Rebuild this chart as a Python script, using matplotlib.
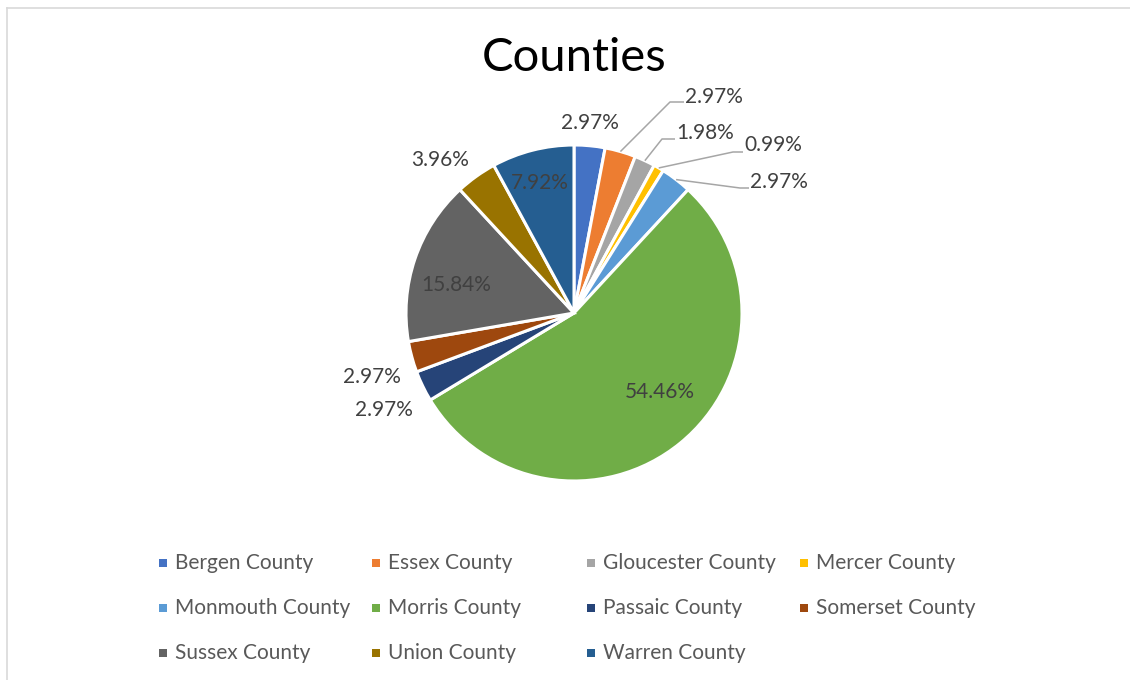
import matplotlib
matplotlib.use("Agg")
import matplotlib.pyplot as plt
from matplotlib.patches import Rectangle
import numpy as np

# Data
counties = ["Bergen County", "Essex County", "Gloucester County", "Mercer County",
            "Monmouth County", "Morris County", "Passaic County", "Somerset County",
            "Sussex County", "Union County", "Warren County"]
shares = [2.97, 2.97, 1.98, 0.99, 2.97, 54.46, 2.97, 2.97, 15.84, 3.96, 7.92]
colors = ["#4472C4", "#ED7D31", "#A5A5A5", "#FFC000", "#5B9BD5", "#70AD47",
          "#264478", "#9E480E", "#636363", "#997300", "#255E91"]
title = "Counties"

W, H = 1130, 680
plt.rcParams["font.family"] = ["Lato", "DejaVu Sans"]

fig = plt.figure(figsize=(W / 100, H / 100), dpi=100)
ax = fig.add_axes([0, 0, 1, 1])


def py(y):
    # top-down pixel row -> axes y
    return H - y


cx, cy, R = 574, py(313), 168

wedges, _ = ax.pie(shares, colors=colors, startangle=90, counterclock=False,
                   center=(cx, cy), radius=R,
                   wedgeprops=dict(edgecolor="white", linewidth=2.2))

# label placement (pixel positions of label centres)
label_pos = {
    0: (590, 123), 5: (660, 392), 6: (384, 410), 7: (372, 377),
    8: (456, 285), 9: (440, 160), 10: (540, 183),
}
# leader elbows for the small slices on the upper right; label starts after elbow
leaders = {
    1: ((670, 102), (684, 102), 97),
    2: ((662, 139), (675, 139), 133),
    3: ((733, 152), (743, 152), 145),
    4: ((740, 188), (749, 188), 182),
}

lab_kw = dict(fontsize=15, color="#404040", va="center")
for i, w in enumerate(wedges):
    txt = f"{shares[i]:.2f}%"
    if i in leaders:
        mid = np.deg2rad((w.theta1 + w.theta2) / 2)
        sx, sy = cx + R * np.cos(mid), cy + R * np.sin(mid)
        (ex, ey), (hx, hy), ty = leaders[i]
        ax.plot([sx, ex, hx], [sy, py(ey), py(hy)], color="#A6A6A6", lw=1.1,
                solid_capstyle="butt", zorder=3)
        ax.text(hx + 1, py(ty), txt, ha="left", **lab_kw)
    else:
        lx, ly = label_pos[i]
        ax.text(lx, py(ly), txt, ha="center", **lab_kw)

ax.text(574, py(58), title, ha="center", va="center", fontsize=34, color="black")

# legend grid, filled row by row
col_x = [163, 376, 591, 804]
row_y = [563, 608, 653]
for i, (name, c) in enumerate(zip(counties, colors)):
    r, k = divmod(i, 4)
    x, y = col_x[k], row_y[r]
    ax.add_patch(Rectangle((x - 4, py(y) - 4), 8, 8, facecolor=c, edgecolor="none"))
    ax.text(x + 12, py(y), name, ha="left", va="center", fontsize=15, color="#595959")

# chart area border (top and left edges visible)
ax.plot([6.5, W], [py(7.5), py(7.5)], color="#D9D9D9", lw=1.2)
ax.plot([6.5, 6.5], [py(7.5), 0], color="#D9D9D9", lw=1.2)

ax.set_xlim(0, W)
ax.set_ylim(0, H)
ax.set_aspect("auto")
ax.axis("off")

fig.savefig("out.png", dpi=100, facecolor="white")
